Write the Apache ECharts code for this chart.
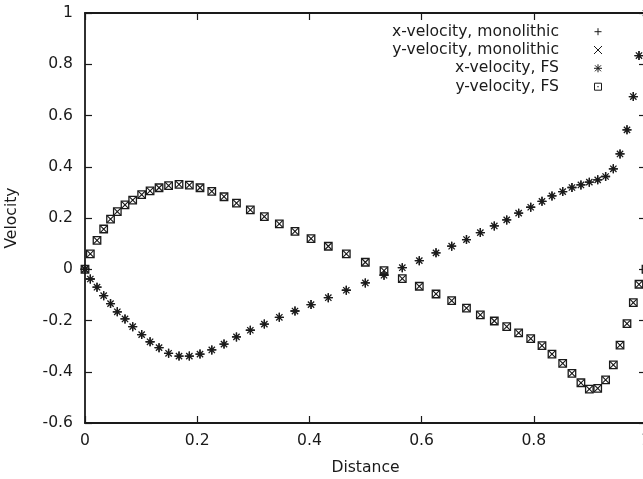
<!DOCTYPE html>
<html>
<head>
<meta charset="utf-8">
<script src="https://cdn.jsdelivr.net/npm/echarts@6/dist/echarts.min.js"></script>
<style>
html,body{margin:0;padding:0;background:#fff;}
#chart{width:643px;height:479px;}
</style>
</head>
<body>
<div id="chart"></div>
<script>
// Sample positions along the line (Distance)
const distance = [0, 0.0095, 0.0214, 0.0333, 0.0455, 0.0576, 0.0713, 0.085, 0.101, 0.116,
  0.132, 0.149, 0.1676, 0.186, 0.205, 0.226, 0.2478, 0.270, 0.2947, 0.3197,
  0.3464, 0.3743, 0.4029, 0.4337, 0.4658, 0.4997, 0.533, 0.5656, 0.5959, 0.6257,
  0.6536, 0.680, 0.7047, 0.7296, 0.7517, 0.773, 0.7945, 0.8146, 0.8324, 0.8515,
  0.868, 0.884, 0.899, 0.9139, 0.928, 0.9418, 0.9537, 0.9661, 0.9774, 0.9875, 1.0];

const xVelMonolithic = [0, -0.038, -0.070, -0.103, -0.134, -0.166, -0.194, -0.224, -0.255, -0.283,
  -0.306, -0.328, -0.339, -0.339, -0.331, -0.315, -0.292, -0.264, -0.238, -0.214,
  -0.1875, -0.163, -0.138, -0.111, -0.082, -0.0535, -0.0234, 0.006, 0.0336, 0.064,
  0.090, 0.116, 0.143, 0.169, 0.1926, 0.219, 0.242, 0.265, 0.286, 0.303,
  0.319, 0.329, 0.340, 0.349, 0.362, 0.392, 0.450, 0.544, 0.674, 0.834, 1.0];

const yVelMonolithic = [0, 0.060, 0.113, 0.157, 0.196, 0.225, 0.251, 0.270, 0.291, 0.306,
  0.318, 0.326, 0.331, 0.328, 0.318, 0.304, 0.283, 0.258, 0.2316, 0.2055,
  0.177, 0.148, 0.1195, 0.0898, 0.0598, 0.0273, -0.0055, -0.0367, -0.0664, -0.0965,
  -0.1225, -0.152, -0.178, -0.202, -0.224, -0.248, -0.271, -0.298, -0.331, -0.367,
  -0.406, -0.443, -0.468, -0.465, -0.432, -0.373, -0.296, -0.2125, -0.130, -0.0586, 0];

const xVelFS = [0, -0.038, -0.070, -0.103, -0.134, -0.166, -0.194, -0.224, -0.255, -0.283,
  -0.306, -0.328, -0.339, -0.339, -0.331, -0.315, -0.292, -0.264, -0.238, -0.214,
  -0.1875, -0.163, -0.138, -0.111, -0.082, -0.0535, -0.0234, 0.006, 0.0336, 0.064,
  0.090, 0.116, 0.143, 0.169, 0.1926, 0.219, 0.242, 0.265, 0.286, 0.303,
  0.319, 0.329, 0.340, 0.349, 0.362, 0.392, 0.450, 0.544, 0.674, 0.834, 1.0];

const yVelFS = [0, 0.060, 0.113, 0.157, 0.196, 0.225, 0.251, 0.270, 0.291, 0.306,
  0.318, 0.326, 0.331, 0.328, 0.318, 0.304, 0.283, 0.258, 0.2316, 0.2055,
  0.177, 0.148, 0.1195, 0.0898, 0.0598, 0.0273, -0.0055, -0.0367, -0.0664, -0.0965,
  -0.1225, -0.152, -0.178, -0.202, -0.224, -0.248, -0.271, -0.298, -0.331, -0.367,
  -0.406, -0.443, -0.468, -0.465, -0.432, -0.373, -0.296, -0.2125, -0.130, -0.0586, 0];

const seriesNames = ['x-velocity, monolithic', 'y-velocity, monolithic', 'x-velocity, FS', 'y-velocity, FS'];

const FONT = 'DejaVu Sans';
const INK = '#1a1a1a';

const PLUS = 'M0,5L10,5M5,0L5,10';
const CROSS = 'M0,0L10,10M10,0L0,10';
const STAR = 'M0,5L10,5M5,0L5,10M1.5,1.5L8.5,8.5M8.5,1.5L1.5,8.5';
const SQUARE = 'M0,0L10,0L10,10L0,10ZM4.4,4.4L5.6,5.6M5.6,4.4L4.4,5.6';

function pairs(xs, ys) { return xs.map((x, i) => [x, ys[i]]); }

function scatter(name, ys, path, size, bw) {
  return {
    name: name,
    type: 'scatter',
    data: pairs(distance, ys),
    symbol: 'path://' + path,
    symbolSize: size,
    clip: true,
    itemStyle: { color: 'transparent', borderColor: INK, borderWidth: bw, opacity: 1 },
    emphasis: { disabled: true },
    animation: false
  };
}

const chart = echarts.init(document.getElementById('chart'), null, { renderer: 'canvas' });

// legend (text right-aligned, symbol to the right) built from graphic primitives
const legendRows = [31.7, 50, 68.3, 86.7];
const LX = 598;
const graphics = [];
function seg(x1, y1, x2, y2) {
  return { type: 'line', silent: true, shape: { x1: x1, y1: y1, x2: x2, y2: y2 },
    style: { stroke: INK, lineWidth: 1 } };
}
seriesNames.forEach((n, i) => {
  const y = legendRows[i];
  graphics.push({
    type: 'text', silent: true,
    style: { text: n, x: 559, y: y, align: 'right', verticalAlign: 'middle',
      font: '15.6px "' + FONT + '"', fill: INK }
  });
  if (i === 0) {
    graphics.push(seg(LX - 3.5, y, LX + 3.5, y), seg(LX, y - 3.5, LX, y + 3.5));
  } else if (i === 1) {
    graphics.push(seg(LX - 4, y - 4, LX + 4, y + 4), seg(LX + 4, y - 4, LX - 4, y + 4));
  } else if (i === 2) {
    graphics.push(seg(LX - 4, y, LX + 4, y), seg(LX, y - 4, LX, y + 4),
      seg(LX - 3, y - 3, LX + 3, y + 3), seg(LX + 3, y - 3, LX - 3, y + 3));
  } else {
    graphics.push({ type: 'rect', silent: true, shape: { x: LX - 3.5, y: y - 3.5, width: 7, height: 7 },
      style: { fill: 'none', stroke: INK, lineWidth: 1 } });
    graphics.push({ type: 'rect', silent: true, shape: { x: LX - 0.6, y: y - 0.6, width: 1.2, height: 1.2 },
      style: { fill: INK } });
  }
});

const axisLine = { show: true, onZero: false, lineStyle: { color: INK, width: 1.8 } };
const axisTick = { show: true, inside: true, length: 7, lineStyle: { color: INK, width: 1.2 } };
const labelStyle = { color: INK, fontFamily: FONT, fontSize: 15.6 };

chart.setOption({
  animation: false,
  backgroundColor: '#ffffff',
  grid: { left: 85, right: -3, top: 13, bottom: 56, containLabel: false, outerBoundsMode: 'none' },
  legend: { show: false },
  graphic: graphics,
  xAxis: [{
    type: 'value', min: 0, max: 1, interval: 0.2,
    name: 'Distance', nameLocation: 'middle', nameGap: 37,
    nameTextStyle: labelStyle,
    axisLine: axisLine, axisTick: axisTick,
    axisLabel: Object.assign({ margin: 10, hideOverlap: false }, labelStyle),
    splitLine: { show: false }
  }, {
    type: 'value', min: 0, max: 1, interval: 0.2, position: 'top',
    axisLine: axisLine, axisTick: axisTick,
    axisLabel: { show: false }, splitLine: { show: false }
  }],
  yAxis: [{
    type: 'value', min: -0.6, max: 1, interval: 0.2,
    name: 'Velocity', nameLocation: 'middle', nameGap: 65, nameRotate: 90,
    nameTextStyle: labelStyle,
    axisLine: axisLine, axisTick: axisTick,
    axisLabel: Object.assign({ margin: 12 }, labelStyle),
    splitLine: { show: false }
  }, {
    type: 'value', min: -0.6, max: 1, interval: 0.2, position: 'right',
    axisLine: axisLine, axisTick: axisTick,
    axisLabel: { show: false }, splitLine: { show: false }
  }],
  series: [
    scatter(seriesNames[0], xVelMonolithic, PLUS, 9, 1.3),
    scatter(seriesNames[1], yVelMonolithic, CROSS, 7, 1.1),
    scatter(seriesNames[2], xVelFS, STAR, 9, 1.3),
    scatter(seriesNames[3], yVelFS, SQUARE, 7.5, 1.3)
  ]
});
</script>
</body>
</html>
